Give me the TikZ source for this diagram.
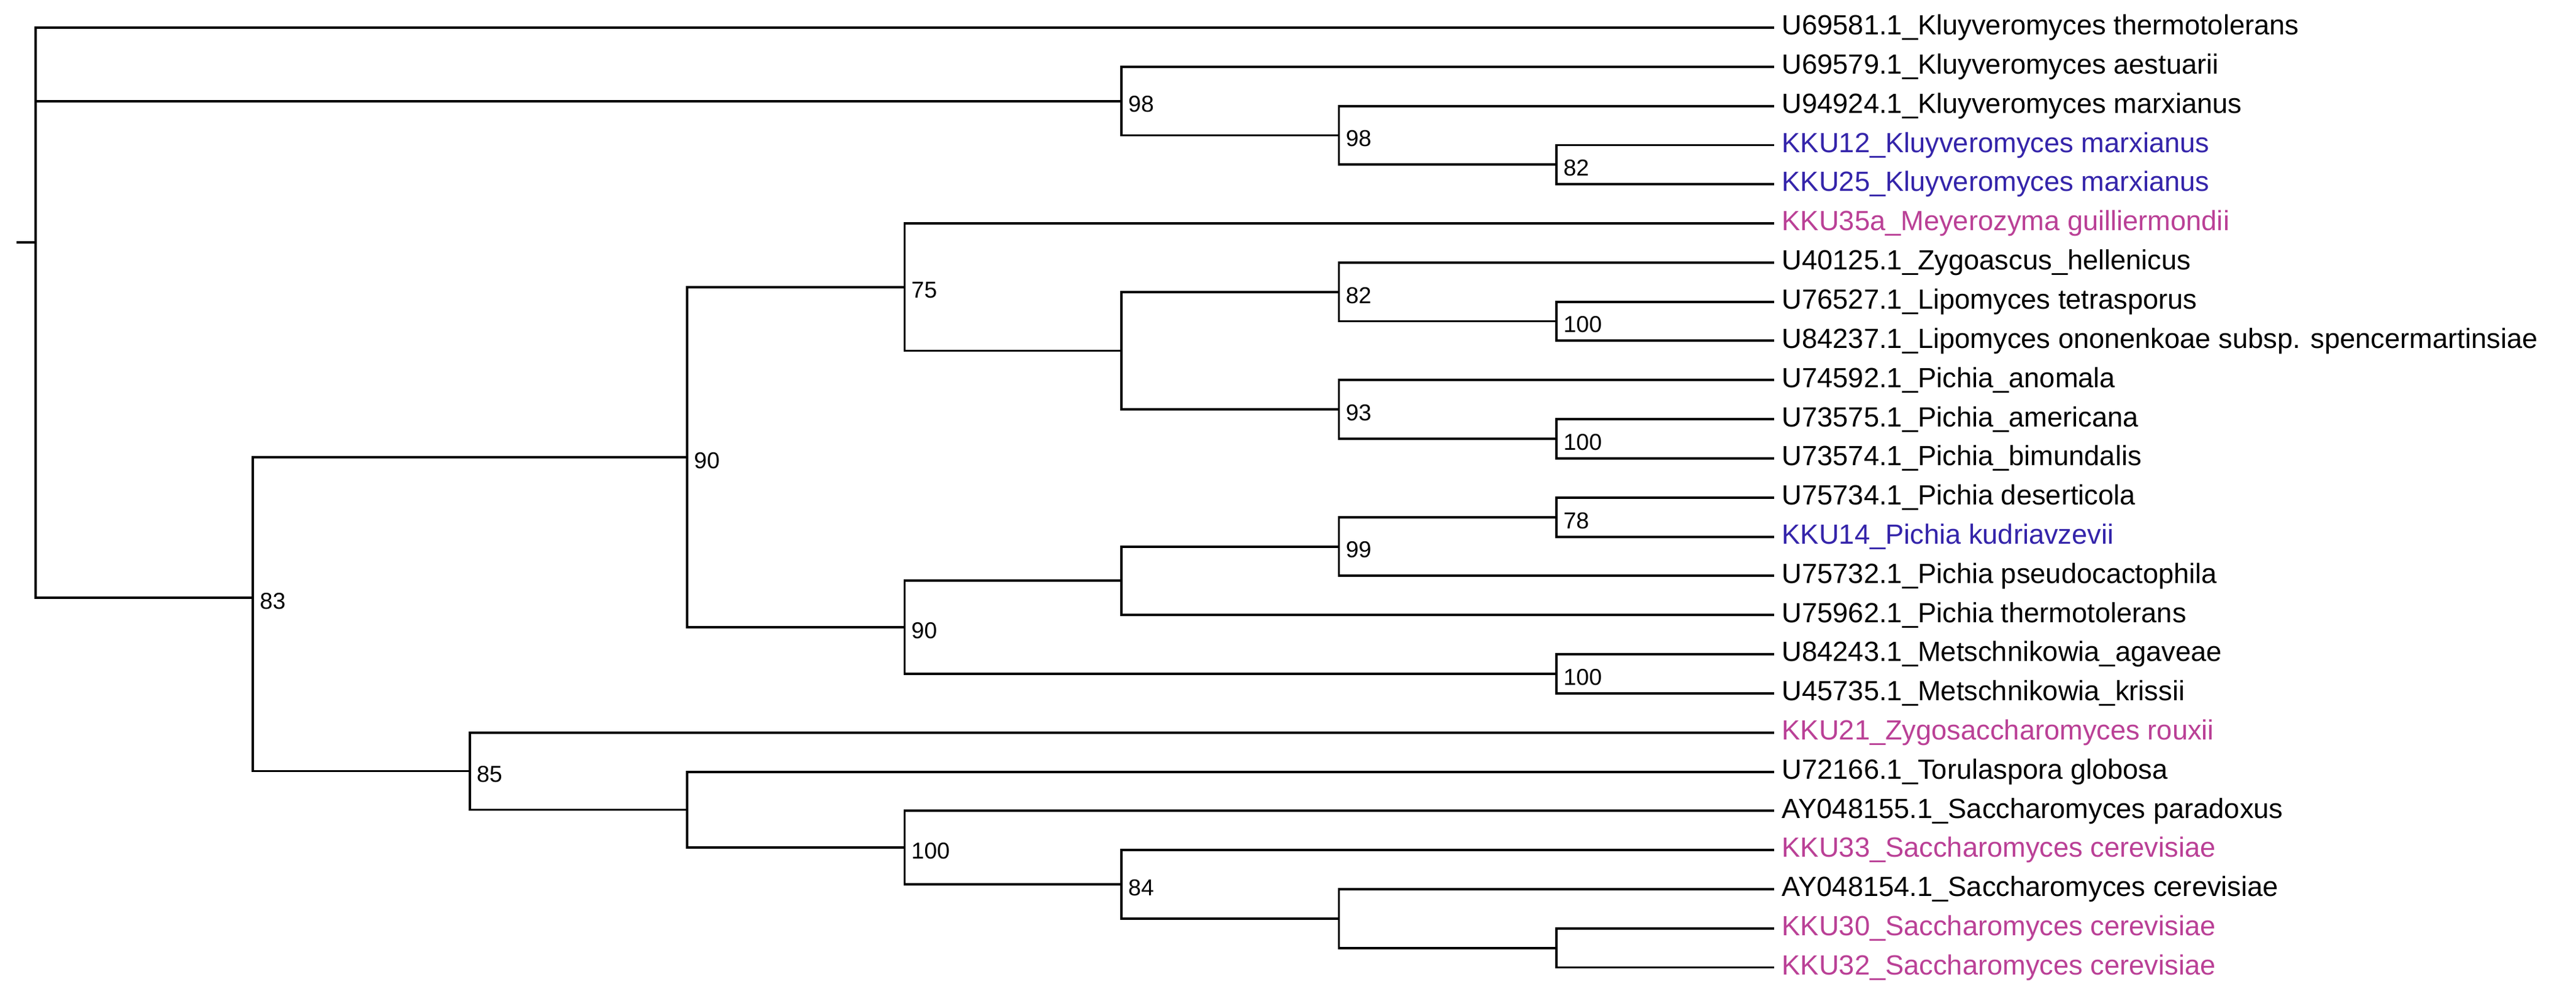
\documentclass[tikz,border=0pt]{standalone}
\usepackage{fontspec}
\setmainfont{Liberation Sans}
\definecolor{kblue}{RGB}{52,36,170}
\definecolor{kpink}{RGB}{186,64,150}
\begin{document}
\begin{tikzpicture}[x=1pt,y=-1pt,
  br/.style={line width=1.45pt,line join=miter},
  leaf/.style={anchor=west,inner sep=0pt,font=\fontsize{16.9}{19}\selectfont},
  bs/.style={anchor=west,inner sep=0pt,font=\fontsize{14}{16}\selectfont}]
\useasboundingbox (0,0) rectangle (1568,605.7);
% leaves
\foreach \i/\yy/\c/\t in {
0/16.8/black/U69581.1\_Kluyveromyces thermotolerans,
1/40.6/black/U69579.1\_Kluyveromyces aestuarii,
2/64.5/black/U94924.1\_Kluyveromyces marxianus,
3/88.3/kblue/KKU12\_Kluyveromyces marxianus,
4/112.1/kblue/KKU25\_Kluyveromyces marxianus,
5/136.0/kpink/KKU35a\_Meyerozyma guilliermondii,
6/159.8/black/U40125.1\_Zygoascus\_hellenicus,
7/183.6/black/U76527.1\_Lipomyces tetrasporus,
8/207.4/black/U84237.1\_Lipomyces ononenkoae subsp. spencermartinsiae,
9/231.3/black/U74592.1\_Pichia\_anomala,
10/255.1/black/U73575.1\_Pichia\_americana,
11/278.9/black/U73574.1\_Pichia\_bimundalis,
12/302.8/black/U75734.1\_Pichia deserticola,
13/326.6/kblue/KKU14\_Pichia kudriavzevii,
14/350.4/black/U75732.1\_Pichia pseudocactophila,
15/374.3/black/U75962.1\_Pichia thermotolerans,
16/398.1/black/U84243.1\_Metschnikowia\_agaveae,
17/421.9/black/U45735.1\_Metschnikowia\_krissii,
18/445.7/kpink/KKU21\_Zygosaccharomyces rouxii,
19/469.6/black/U72166.1\_Torulaspora globosa,
20/493.4/black/AY048155.1\_Saccharomyces paradoxus,
21/517.2/kpink/KKU33\_Saccharomyces cerevisiae,
22/541.1/black/AY048154.1\_Saccharomyces cerevisiae,
23/564.9/kpink/KKU30\_Saccharomyces cerevisiae,
24/588.7/kpink/KKU32\_Saccharomyces cerevisiae}{
  \coordinate (l\i) at (1080,\yy);
  \node[leaf,text=\c] (t\i) at (1084.5,\yy) {\t};
}
% internal nodes
\coordinate (stub) at (10,147.5);
\coordinate (root) at (21.7,147.5);
\coordinate (A98) at (682.6,61.5);
\coordinate (B98) at (815,82.35);
\coordinate (C82) at (947.5,100.2);
\coordinate (N83) at (154,363.7);
\coordinate (N90a) at (418.3,278.2);
\coordinate (N75) at (550.6,174.7);
\coordinate (N683a) at (682.6,213.4);
\coordinate (N82b) at (815,177.65);
\coordinate (N100a) at (947.5,195.5);
\coordinate (N93) at (815,249.15);
\coordinate (N100b) at (947.5,267);
\coordinate (N90b) at (550.6,381.7);
\coordinate (N683b) at (682.6,353.4);
\coordinate (N99) at (815,332.55);
\coordinate (N78) at (947.5,314.7);
\coordinate (N100c) at (947.5,410);
\coordinate (N85) at (286,469.2);
\coordinate (N418) at (418.3,492.7);
\coordinate (N100d) at (550.6,515.75);
\coordinate (N84) at (682.6,538.1);
\coordinate (N815) at (815,558.95);
\coordinate (N948) at (947.5,576.8);
% branches
\draw[br] (stub) -- (root);
\foreach \p/\k in {root/l0,root/A98,root/N83,
  A98/l1,A98/B98,B98/l2,B98/C82,C82/l3,C82/l4,
  N83/N90a,N83/N85,
  N90a/N75,N90a/N90b,
  N75/l5,N75/N683a,N683a/N82b,N683a/N93,
  N82b/l6,N82b/N100a,N100a/l7,N100a/l8,
  N93/l9,N93/N100b,N100b/l10,N100b/l11,
  N90b/N683b,N90b/N100c,N683b/N99,N683b/l15,
  N99/N78,N99/l14,N78/l12,N78/l13,N100c/l16,N100c/l17,
  N85/l18,N85/N418,N418/l19,N418/N100d,
  N100d/l20,N100d/N84,N84/l21,N84/N815,N815/l22,N815/N948,N948/l23,N948/l24}{
  \draw[br] (\p) |- (\k);
}
% bootstrap values
\foreach \n/\v in {A98/98,B98/98,C82/82,N83/83,N90a/90,N75/75,N82b/82,N100a/100,
  N93/93,N100b/100,N90b/90,N99/99,N78/78,N100c/100,N85/85,N100d/100,N84/84}{
  \node[bs] (b\n) at ([xshift=4pt,yshift=-2pt]\n) {\v};
}
\end{tikzpicture}
\end{document}
